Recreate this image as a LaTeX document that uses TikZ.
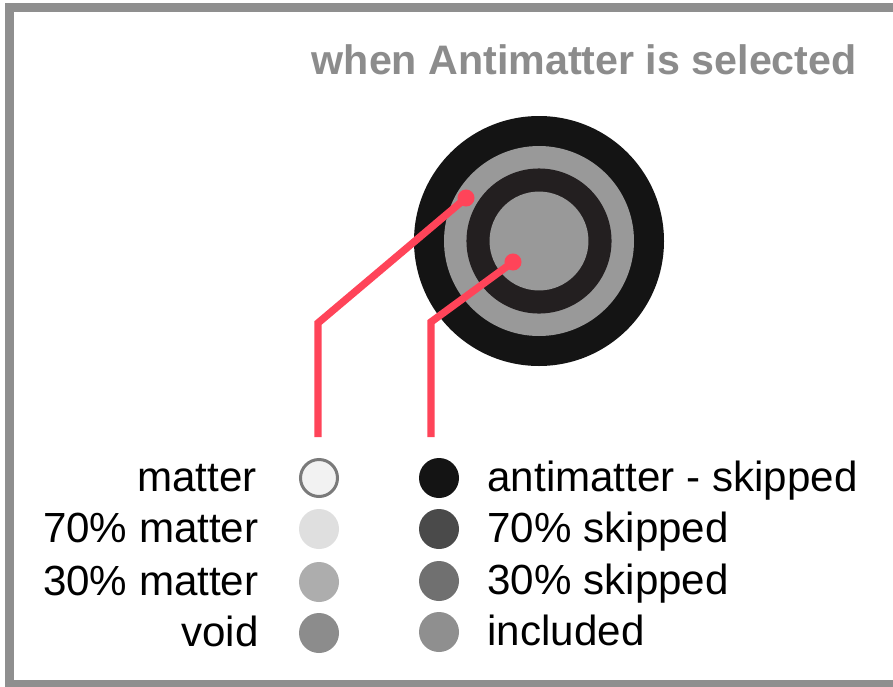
\documentclass[tikz,border=0pt]{standalone}
\usepackage{fontspec}
\setmainfont{Liberation Sans}
\usepackage{xcolor}
\usetikzlibrary{positioning}

\definecolor{framegray}{HTML}{8F8F8F}
\definecolor{titlegray}{HTML}{8C8C8C}
\definecolor{pinred}{HTML}{FF4459}
\definecolor{ringblack}{HTML}{141414}
\definecolor{ringgray}{HTML}{999999}
\definecolor{ringdark}{HTML}{231F20}

\tikzset{
  legdot/.style={circle, minimum size=30pt, inner sep=0pt},
  leglabel/.style={font=\fontsize{31.6pt}{36pt}\selectfont, inner sep=0pt,
    text height=19.5pt, text depth=0pt},
  pinline/.style={draw=pinred, line width=5.5pt}
}

\begin{document}
\begin{tikzpicture}[x=0.75pt, y=-0.75pt]

    % Page and frame
    \clip (0,0) rectangle (893,686);
    \fill[white] (0,0) rectangle (893,686);
    \draw[framegray, line width=6.75pt] (9.5,7.7) rectangle (905,684.5);

    \node[anchor=base east, inner sep=0pt, text=titlegray,
      font=\bfseries\fontsize{30.9pt}{36pt}\selectfont] (title) at (857,74) {when Antimatter is selected};

    % Target rings
    \fill[ringblack] (539,241) circle (93.75pt);
    \fill[ringgray]  (539,241) circle (71.25pt);
    \fill[ringdark]  (539,241) circle (54.4pt);
    \fill[ringgray]  (539,241) circle (37.1pt);

    \coordinate (outerpin) at (466,198);
    \coordinate (innerpin) at (513,262);
    \coordinate (outerbend) at (318,323);
    \coordinate (innerbend) at (431,322);
    \coordinate (outerend) at (318,437);
    \coordinate (innerend) at (431,437);

    % Legend, left column
    \node[legdot, fill=black!5, draw=black!52, line width=2.25pt, minimum size=27.75pt] (matter) at (319,478) {};
    \node[legdot, fill=black!12.5] (matter70) at (319,529) {};
    \node[legdot, fill=black!32] (matter30) at (319,582) {};
    \node[legdot, fill=black!45] (void) at (319,633) {};

    \node[leglabel, left=31.5pt of matter] (mattertxt) {matter};
    \node[leglabel, left=30pt of matter70] (matter70txt) {70\% matter};
    \node[leglabel, left=30pt of matter30] (matter30txt) {30\% matter};
    \node[leglabel, left=30pt of void] (voidtxt) {void};

    % Legend, right column
    \node[legdot, fill=ringblack] (anti) at (439,478) {};
    \node[legdot, fill=black!71] (skip70) at (439,529) {};
    \node[legdot, fill=black!56] (skip30) at (439,581) {};
    \node[legdot, fill=black!44] (incl) at (439,632) {};

    \node[leglabel, right=21pt of anti] (antitxt) {antimatter - skipped};
    \node[leglabel, right=21pt of skip70] (skip70txt) {70\% skipped};
    \node[leglabel, right=21pt of skip30] (skip30txt) {30\% skipped};
    \node[leglabel, right=21pt of incl] (incltxt) {included};

    % Pointers
    \draw[pinline] (outerpin) -- (outerbend) -- (outerend);
    \draw[pinline] (innerpin) -- (innerbend) -- (innerend);
    \fill[pinred] (outerpin) circle (6.4pt);
    \fill[pinred] (innerpin) circle (6.4pt);

\end{tikzpicture}
\end{document}
